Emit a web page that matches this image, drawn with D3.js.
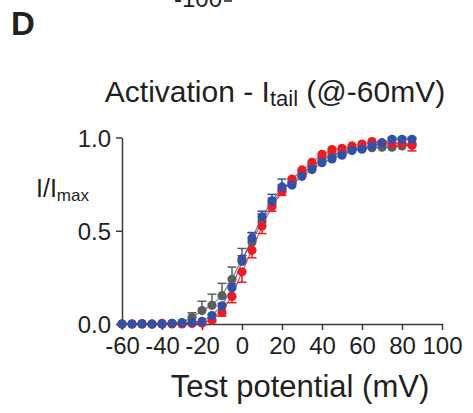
<!DOCTYPE html>
<html>
<head>
<meta charset="utf-8">
<script src="https://cdn.jsdelivr.net/npm/d3@7"></script>
<style>
  body { margin: 0; background: #fff; }
  text { font-family: "Liberation Sans", Arial, sans-serif; fill: #231f20; }
</style>
</head>
<body>
<script>
// test potentials (mV)
const volts = [-60,-55,-50,-45,-40,-35,-30,-25,-20,-15,-10,-5,0,5,10,15,20,25,30,35,40,45,50,55,60,65,70,75,80,85];

// normalized tail currents I/Imax
const greyVals = [0,0,0,0,0,0.003,0.008,0.035,0.072,0.1,0.152,0.24,0.35,0.44,0.55,0.645,0.72,0.76,0.805,0.845,0.88,0.905,0.92,0.935,0.94,0.945,0.948,0.948,0.955,0.96];
const redVals  = [0,0,0.002,0,0.004,0,0,0.003,0.005,0.022,0.062,0.148,0.28,0.395,0.525,0.63,0.71,0.777,0.826,0.867,0.91,0.935,0.942,0.955,0.965,0.978,0.972,0.968,0.97,0.958];
const blueVals = [0,0,0,0,0,0.004,0.005,0.01,0.014,0.045,0.097,0.195,0.336,0.46,0.575,0.66,0.735,0.745,0.792,0.828,0.865,0.885,0.905,0.93,0.937,0.955,0.97,0.99,0.99,0.99];

// SEM (grey/blue drawn up, red drawn down)
const greyErr = [0,0,0,0,0,0,0.005,0.025,0.05,0.06,0.066,0.065,0.055,0.05,0.04,0.03,0.025,0.02,0.02,0.015,0.015,0.01,0.01,0.01,0.01,0.01,0.01,0.01,0.01,0.01];
const redErr  = [0,0,0,0,0,0,0,0,0.004,0.01,0.02,0.034,0.056,0.04,0.04,0.025,0.02,0.012,0.01,0.01,0.01,0.01,0.01,0.01,0.01,0.01,0.01,0.012,0.012,0.03];
const blueErr = [0,0,0,0,0,0,0,0,0.004,0.008,0.015,0.02,0.03,0.03,0.03,0.035,0.042,0.01,0.01,0.01,0.01,0.01,0.01,0.01,0.01,0.01,0.01,0.01,0.01,0.01];

const xTicks = [-60,-40,-20,0,20,40,60,80,100];
const yTicks = [0,0.5,1];

const series = [
  {name: "grey", vals: greyVals, err: greyErr, dir: 1,  color: "#5d5d5f"},
  {name: "red",  vals: redVals,  err: redErr,  dir: -1, color: "#ed1c24"},
  {name: "blue", vals: blueVals, err: blueErr, dir: 1,  color: "#3350a8"}
];

const W = 473, H = 413;
const svg = d3.select("body").append("svg")
    .attr("width", W)
    .attr("height", H);

const x = d3.scaleLinear().domain([-60, 100]).range([122, 442]);
const y = d3.scaleLinear().domain([0, 1]).range([324, 137.5]);

// panel letter and cut off label from the panel above
svg.append("text").attr("x", 11).attr("y", 35)
    .style("font-size", "33px").style("font-weight", "bold").text("D");
svg.append("text").attr("x", 222).attr("y", 7).attr("text-anchor", "end")
    .style("font-size", "24px").text("-100");
svg.append("line").attr("x1", 224).attr("x2", 232).attr("y1", 1).attr("y2", 1)
    .attr("stroke", "#231f20").attr("stroke-width", 1.5);

// title
const title = svg.append("text").attr("x", 275).attr("y", 101.5)
    .attr("text-anchor", "middle").style("font-size", "30px");
title.append("tspan").text("Activation - I");
title.append("tspan").attr("dy", 4).style("font-size", "22px").text("tail");
title.append("tspan").attr("dy", -4).text(" (@-60mV)");

// axes
const xAxis = svg.append("g")
    .attr("transform", "translate(0,324)")
    .call(d3.axisBottom(x).tickValues(xTicks).tickSize(6).tickSizeOuter(0).tickPadding(5)
      .tickFormat(d => String(d)));
const yAxis = svg.append("g")
    .attr("transform", "translate(122,0)")
    .call(d3.axisLeft(y).tickValues(yTicks).tickSize(6).tickSizeOuter(0).tickPadding(5)
      .tickFormat(d3.format(".1f")));

[xAxis, yAxis].forEach(g => {
  g.select(".domain").attr("stroke", "#3a3a3a").attr("stroke-width", 1.5);
  g.selectAll(".tick line").attr("stroke", "#3a3a3a").attr("stroke-width", 1.5);
  g.selectAll(".tick text").style("font-size", "24px").attr("fill", "#231f20")
    .style("font-family", "'Liberation Sans', Arial, sans-serif");
});
xAxis.selectAll(".tick text").attr("dy", "0.71em").attr("y", 13);
yAxis.selectAll(".tick text").attr("dy", "0.36em");

// axis titles
const yl = svg.append("text").attr("x", 36).attr("y", 197).style("font-size", "25px");
yl.append("tspan").text("I/I");
yl.append("tspan").attr("dy", 4).style("font-size", "17px").text("max");

svg.append("text").attr("x", 300).attr("y", 397).attr("text-anchor", "middle")
    .style("font-size", "31px").text("Test potential (mV)");

// fit lines
const line = d3.line()
    .x((d, i) => x(volts[i]))
    .y(d => y(d))
    .curve(d3.curveBasis);

series.forEach(s => {
  svg.append("path")
      .attr("d", line(s.vals))
      .attr("fill", "none")
      .attr("stroke", s.color)
      .attr("stroke-width", 1.1)
      .attr("opacity", 0.85);
});

// error bars + points
series.forEach(s => {
  const g = svg.append("g").attr("class", s.name);
  const pts = s.vals.map((v, i) => ({v: v, e: s.err[i], mv: volts[i]}));
  const eb = pts.filter(d => d.e > 0.006);
  g.selectAll(".eb").data(eb).enter().append("line")
      .attr("x1", d => x(d.mv)).attr("x2", d => x(d.mv))
      .attr("y1", d => y(d.v)).attr("y2", d => y(d.v + s.dir * d.e))
      .attr("stroke", s.color).attr("stroke-width", 1.5);
  g.selectAll(".cap").data(eb).enter().append("line")
      .attr("x1", d => x(d.mv) - 4.5).attr("x2", d => x(d.mv) + 4.5)
      .attr("y1", d => y(d.v + s.dir * d.e)).attr("y2", d => y(d.v + s.dir * d.e))
      .attr("stroke", s.color).attr("stroke-width", 1.5);
  g.selectAll("circle").data(pts).enter().append("circle")
      .attr("cx", d => x(d.mv))
      .attr("cy", d => y(d.v))
      .attr("r", 4.6)
      .attr("fill", s.color);
});
</script>
</body>
</html>
